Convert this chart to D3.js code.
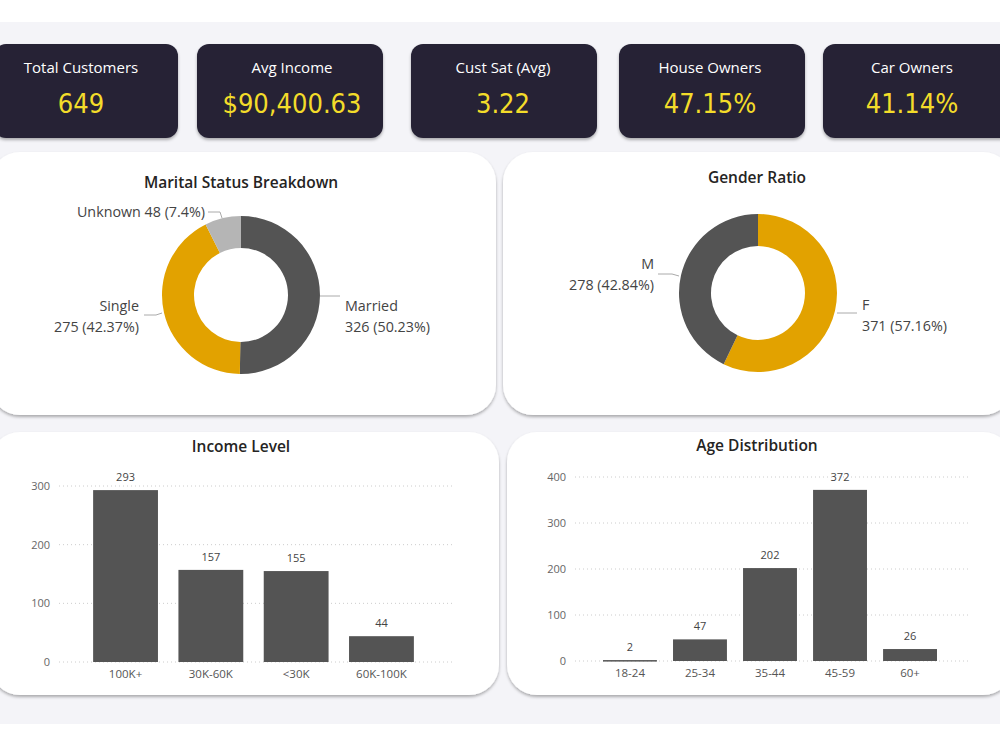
<!DOCTYPE html>
<html>
<head>
<meta charset="utf-8">
<script src="https://cdn.jsdelivr.net/npm/d3@7"></script>
<style>
  body { margin: 0; background: #fff; }
  svg { display: block; font-family: "Open Sans", "Noto Sans", sans-serif; }
</style>
</head>
<body>
<svg width="1000" height="750"></svg>
<script>
// kpi cards
const kpiTitles = ['Total Customers', 'Avg Income', 'Cust Sat (Avg)', 'House Owners', 'Car Owners'];
const kpiValues = ['649', '$90,400.63', '3.22', '47.15%', '41.14%'];

// donuts
const maritalLabels = ['Married', 'Single', 'Unknown'];
const maritalValues = [326, 275, 48];
const maritalPct = ['50.23%', '42.37%', '7.4%'];
const genderLabels = ['F', 'M'];
const genderValues = [371, 278];
const genderPct = ['57.16%', '42.84%'];

// bars
const incomeCats = ['100K+', '30K-60K', '<30K', '60K-100K'];
const incomeValues = [293, 157, 155, 44];
const incomeTicks = [0, 100, 200, 300];
const ageCats = ['18-24', '25-34', '35-44', '45-59', '60+'];
const ageValues = [2, 47, 202, 372, 26];
const ageTicks = [0, 100, 200, 300, 400];

const svg = d3.select('svg');

// shadow filter for the white panels
const defs = svg.append('defs');
const f = defs.append('filter').attr('id', 'sh').attr('x', '-5%').attr('y', '-5%').attr('width', '110%').attr('height', '115%');
f.append('feDropShadow').attr('dx', 0).attr('dy', 2).attr('stdDeviation', 1.5).attr('flood-color', '#000').attr('flood-opacity', 0.3);

svg.append('rect').attr('x', 0).attr('y', 22).attr('width', 1000).attr('height', 702).attr('fill', '#f4f4f8');

// kpi row
const cardX = [-6, 197, 411, 619, 823];
const cardW = [184, 186, 186, 186, 190];
const textX = [81, 292, 503, 710, 912];
const cards = svg.selectAll('g.kpi').data(kpiTitles).enter().append('g').attr('class', 'kpi');
cards.append('rect')
  .attr('x', (d, i) => cardX[i]).attr('y', 44)
  .attr('width', (d, i) => cardW[i]).attr('height', 94)
  .attr('rx', 12).attr('fill', '#262335')
  .attr('filter', 'url(#sh)');
cards.append('text')
  .attr('x', (d, i) => textX[i]).attr('y', 73)
  .attr('text-anchor', 'middle').attr('fill', '#fff').attr('font-size', 15)
  .text(d => d);
cards.append('text')
  .attr('x', (d, i) => textX[i]).attr('y', 113)
  .attr('text-anchor', 'middle').attr('fill', '#f3dc2a').attr('font-size', 27)
  .attr('font-family', '"DejaVu Sans Condensed", "DejaVu Sans", sans-serif')
  .text((d, i) => kpiValues[i]);

// panels
const panels = [
  { x: -10, y: 152, w: 506, h: 263, title: 'Marital Status Breakdown', ty: 188 },
  { x: 503, y: 152, w: 510, h: 263, title: 'Gender Ratio', ty: 183 },
  { x: -10, y: 432, w: 509, h: 263, title: 'Income Level', ty: 452 },
  { x: 507, y: 432, w: 506, h: 263, title: 'Age Distribution', ty: 451 }
];
panels.forEach(p => {
  svg.append('rect').attr('x', p.x).attr('y', p.y).attr('width', p.w).attr('height', p.h)
    .attr('rx', 30).attr('fill', '#fff').attr('filter', 'url(#sh)');
});
const titleX = [241, 757, 241, 757];
panels.forEach((p, i) => {
  svg.append('text').attr('x', titleX[i]).attr('y', p.ty).attr('text-anchor', 'middle')
    .attr('font-size', 15.5).attr('font-weight', 600).attr('fill', '#252423').text(p.title);
});

function donut(cx, cy, labels, values, colors, labelPos) {
  const g = svg.append('g').attr('transform', `translate(${cx},${cy})`);
  const pie = d3.pie().sort(null).value(d => d)(values);
  const arc = d3.arc().innerRadius(47).outerRadius(79);
  g.selectAll('path').data(pie).enter().append('path')
    .attr('d', arc).attr('fill', (d, i) => colors[i]);
  labelPos.forEach((lp, i) => {
    g.append('polyline').attr('points', lp.line.map(p => p.join(',')).join(' '))
      .attr('fill', 'none').attr('stroke', '#aaa').attr('stroke-width', 1);
    const t = g.append('text').attr('x', lp.x).attr('y', lp.y)
      .attr('text-anchor', lp.anchor).attr('font-size', 14.3).attr('fill', '#444');
    lp.lines.forEach((s, j) => {
      t.append('tspan').attr('x', lp.x).attr('dy', j ? 21 : 0).text(s);
    });
  });
}

donut(241, 295, maritalLabels, maritalValues, ['#545454', '#e2a200', '#b5b5b5'], [
  { x: 104, y: 16, anchor: 'start', line: [[79, 1], [99, 1]],
    lines: [maritalLabels[0], maritalValues[0] + ' (' + maritalPct[0] + ')'] },
  { x: -102, y: 16, anchor: 'end', line: [[-97, 20], [-85, 20], [-79, 18]],
    lines: [maritalLabels[1], maritalValues[1] + ' (' + maritalPct[1] + ')'] },
  { x: -36, y: -78, anchor: 'end', line: [[-33, -83], [-21, -83], [-19, -77]],
    lines: [maritalLabels[2] + ' ' + maritalValues[2] + ' (' + maritalPct[2] + ')'] }
]);

donut(758, 293, genderLabels, genderValues, ['#e2a200', '#545454'], [
  { x: 104, y: 17, anchor: 'start', line: [[79, 20], [99, 20]],
    lines: [genderLabels[0], genderValues[0] + ' (' + genderPct[0] + ')'] },
  { x: -104, y: -24, anchor: 'end', line: [[-100, -19], [-86, -19], [-79, -17]],
    lines: [genderLabels[1], genderValues[1] + ' (' + genderPct[1] + ')'] }
]);

function bars(cats, values, ticks, xr, yr, domMax, bw) {
  const x = d3.scaleBand().domain(cats).range(xr).paddingInner(bw).paddingOuter(0.4);
  const y = d3.scaleLinear().domain([0, domMax]).range(yr);
  const g = svg.append('g');
  g.selectAll('line.grid').data(ticks).enter().append('line')
    .attr('x1', xr[0]).attr('x2', xr[1] + 4)
    .attr('y1', d => y(d)).attr('y2', d => y(d))
    .attr('stroke', '#ccc').attr('stroke-dasharray', '1,3');
  g.selectAll('text.tick').data(ticks).enter().append('text')
    .attr('x', xr[0] - 9).attr('y', d => y(d) + 4).attr('text-anchor', 'end')
    .attr('font-size', 11).attr('fill', '#666').text(d => d);
  g.selectAll('rect').data(values).enter().append('rect')
    .attr('x', (d, i) => x(cats[i])).attr('width', x.bandwidth())
    .attr('y', d => y(d)).attr('height', d => Math.max(1.5, y(0) - y(d)))
    .attr('fill', '#545454');
  g.selectAll('text.val').data(values).enter().append('text')
    .attr('x', (d, i) => x(cats[i]) + x.bandwidth() / 2).attr('y', d => y(d) - 9)
    .attr('text-anchor', 'middle').attr('font-size', 11).attr('fill', '#444').text(d => d);
  g.selectAll('text.cat').data(cats).enter().append('text')
    .attr('x', d => x(d) + x.bandwidth() / 2).attr('y', y(0) + 16)
    .attr('text-anchor', 'middle').attr('font-size', 11.5).attr('fill', '#555').text(d => d);
}

bars(incomeCats, incomeValues, incomeTicks, [59, 448], [662, 486], 300, 0.24);
bars(ageCats, ageValues, ageTicks, [575, 965], [661, 477], 400, 0.23);
</script>
</body>
</html>
